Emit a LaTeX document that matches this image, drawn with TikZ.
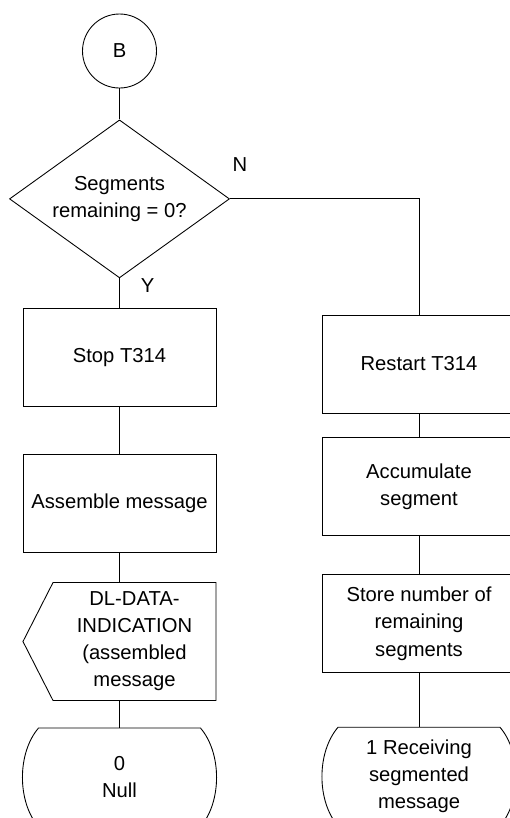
\documentclass[tikz,border=0pt]{standalone}
\usepackage{fontspec}
\setmainfont{Liberation Sans}
\usepackage{tikz}
\usetikzlibrary{positioning,calc,shapes.geometric,shapes.symbols}
\tikzset{
    flowbox/.style={draw, align=center, font=\flowfont, minimum width=3.86cm, minimum height=1.96cm, inner sep=1pt},
    flowstart/.style={draw, circle, font=\flowfont, minimum size=1.48cm, inner sep=0pt},
    flowdecision/.style={draw, diamond, aspect=1.39, align=center, font=\flowfont, minimum width=4.4cm, minimum height=3.16cm, inner sep=0pt},
    flowsignal/.style={draw, signal, signal to=west, signal pointer angle=126, align=center, font=\flowfont, minimum width=3.86cm, minimum height=2.36cm, inner sep=1pt},
    flowstate/.style={align=center, font=\flowfont, minimum width=3.86cm, minimum height=1.96cm, inner sep=1pt},
    flowline/.style={line width=0.5pt},
    flowlabel/.style={font=\flowfont}
}
\newcommand{\flowfont}{\fontsize{11.5}{15.4}\selectfont}

\begin{document}
\begin{tikzpicture}[line width=0.5pt]
        \clip (0,0) rectangle (10.2,-16.36);
        \node[flowstart] (start) at (2.39,-1.02) {B};
        \node[flowdecision, below=0.62cm of start] (dec) {Segments\\remaining = 0?};
        \node[flowbox, below=0.6cm of dec] (stop) {Stop T314};
        \node[flowbox, below=0.94cm of stop] (assemble) {Assemble message};
        \node[flowsignal, below=0.58cm of assemble, xshift=0.3cm] (dlind) {DL-DATA-\\INDICATION\\(assembled\\message};
        \node[flowstate, below=0.54cm of dlind, xshift=-0.3cm] (nullst) {0\\Null};
        \node[flowbox] (restart) at (8.38,-7.28) {Restart T314};
        \node[flowbox, below=0.48cm of restart] (accum) {Accumulate\\segment};
        \node[flowbox, below=0.76cm of accum] (store) {Store number of\\remaining\\segments};
        \node[flowstate, below=1.08cm of store] (recv) {1 Receiving\\segmented\\message};
        \node[flowlabel] (nlab) at ($(dec.east)+(0.2,0.68)$) {N};
        \node[flowlabel] (ylab) at ($(dec.south)+(0.56,-0.14)$) {Y};
        % state outlines: flat top, bulging sides
        \draw ($(nullst.north west)+(0.32,0)$) -- ($(nullst.north east)+(-0.32,0)$)
            .. controls +(0.43,-0.5) and +(0.43,0.5) .. ($(nullst.south east)+(-0.32,0)$)
            -- ($(nullst.south west)+(0.32,0)$)
            .. controls +(-0.43,0.5) and +(-0.43,-0.5) .. cycle;
        \draw ($(recv.north west)+(0.32,0)$) -- ($(recv.north east)+(-0.32,0)$)
            .. controls +(0.43,-0.5) and +(0.43,0.5) .. ($(recv.south east)+(-0.32,0)$)
            -- ($(recv.south west)+(0.32,0)$)
            .. controls +(-0.43,0.5) and +(-0.43,-0.5) .. cycle;
        \draw[flowline] (start) -- (dec);
        \draw[flowline] (dec.south) -- (stop.north);
        \draw[flowline] (stop) -- (assemble);
        \draw[flowline] (assemble.south) -- (assemble.south |- dlind.north);
        \draw[flowline] (nullst.north |- dlind.south) -- (nullst.north);
        \draw[flowline] (dec.east) -| (restart.north);
        \draw[flowline] (restart) -- (accum);
        \draw[flowline] (accum) -- (store);
        \draw[flowline] (store) -- (recv);
    \end{tikzpicture}
\end{document}
